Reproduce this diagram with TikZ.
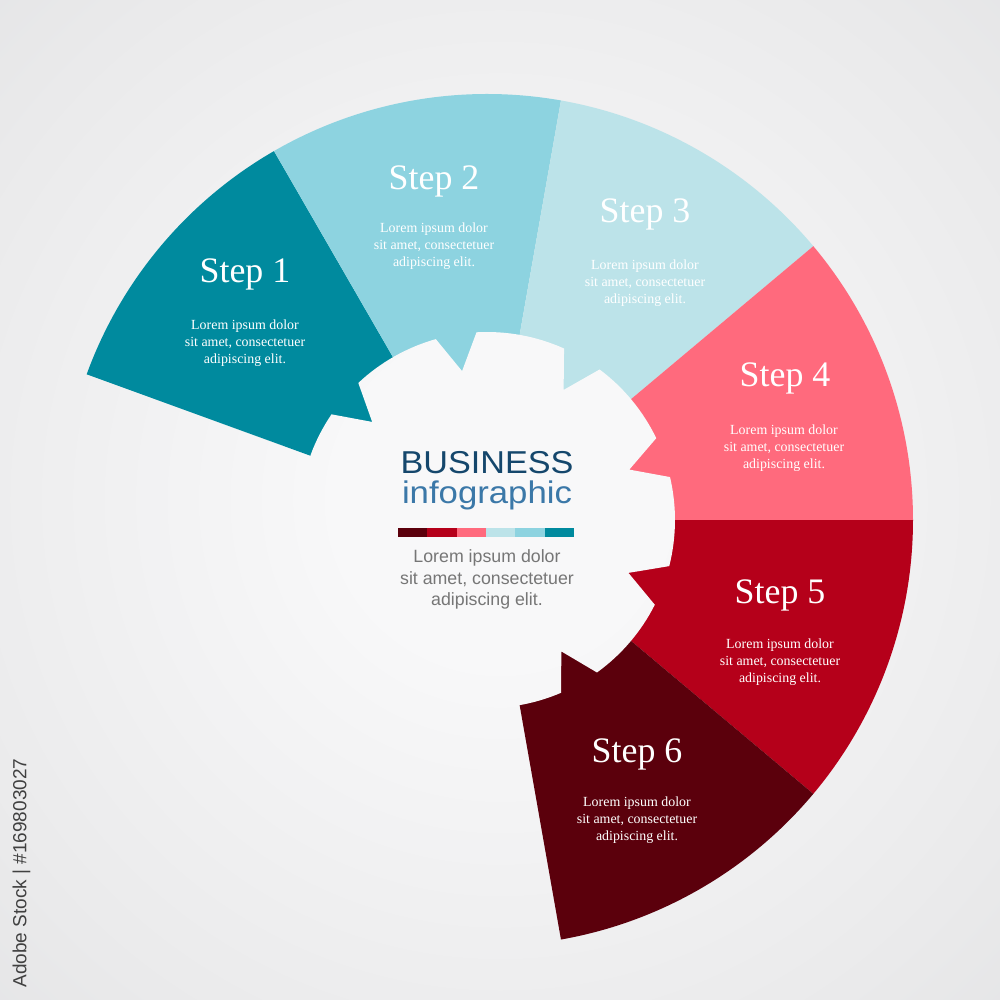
\documentclass[tikz,border=0pt]{standalone}
\usepackage{fontspec}
\setmainfont{Liberation Serif}
\newfontfamily\bizsans{Liberation Sans}
\usepackage{graphicx}
\usepackage{tikz}

\definecolor{stepone}{HTML}{008A9E}
\definecolor{steptwo}{HTML}{8DD3E0}
\definecolor{stepthree}{HTML}{BCE3E9}
\definecolor{stepfour}{HTML}{FF6A7D}
\definecolor{stepfive}{HTML}{B5001A}
\definecolor{stepsix}{HTML}{5B000C}
\definecolor{bizdark}{HTML}{15476C}
\definecolor{bizlight}{HTML}{3B78A8}
\definecolor{loremgray}{HTML}{767676}
\definecolor{bgin}{HTML}{F8F8F9}
\definecolor{bgmid}{HTML}{EAEAEB}
\definecolor{bgout}{HTML}{DBDCDE}

\pgfdeclareradialshading{backglow}{\pgfpoint{0bp}{0bp}}{color(0bp)=(bgin); color(8bp)=(bgin); color(30bp)=(bgmid); color(50bp)=(bgout)}

\begin{document}
\begin{tikzpicture}[x=0.01cm,y=0.01cm,
  steplabel/.style={anchor=base,text=white,font=\fontsize{10.2}{12}\selectfont},
  steptext/.style={align=center,text=white,font=\fontsize{3.96}{4.84}\selectfont}]
% Background
\useasboundingbox (-487,-480) rectangle (513,520);
\shade[shading=backglow] (-487,-480) rectangle (513,520);

% Six wedges, 40 degrees each
\foreach \col [count=\i] in {stepone,steptwo,stepthree,stepfour,stepfive,stepsix}
  \fill[\col] (0,0) -- ({200-40*\i}:426) arc[start angle=200-40*\i, end angle=160-40*\i, radius=426] -- cycle;

% Gear in the middle, same glow as the background
\begin{scope}
\clip (25.8:188)
  foreach \a in {59.5,99.5,...,379.5} {
    arc[start angle=\a-33.7, end angle=\a-6.3, radius=188] -- (\a:151) -- ({\a+6.3}:188)
  } -- cycle;
\shade[shading=backglow] (-487,-480) rectangle (513,520);
\end{scope}

% Step labels
\node[steplabel] (step1) at (-242,237) {Step 1};
\node[steplabel] (step2) at (-53,330) {Step 2};
\node[steplabel] (step3) at (158,297) {Step 3};
\node[steplabel] (step4) at (298,133) {Step 4};
\node[steplabel] (step5) at (293,-83) {Step 5};
\node[steplabel] (step6) at (150,-242) {Step 6};

\node[steptext] (step1txt) at (-242,177) {Lorem ipsum dolor\\sit amet, consectetuer\\adipiscing elit.};
\node[steptext] (step2txt) at (-53,274) {Lorem ipsum dolor\\sit amet, consectetuer\\adipiscing elit.};
\node[steptext] (step3txt) at (158,237) {Lorem ipsum dolor\\sit amet, consectetuer\\adipiscing elit.};
\node[steptext] (step4txt) at (297,72) {Lorem ipsum dolor\\sit amet, consectetuer\\adipiscing elit.};
\node[steptext] (step5txt) at (293,-142) {Lorem ipsum dolor\\sit amet, consectetuer\\adipiscing elit.};
\node[steptext] (step6txt) at (150,-300) {Lorem ipsum dolor\\sit amet, consectetuer\\adipiscing elit.};

% Title
\node[text=bizdark,font=\bizsans\fontsize{9}{11}\selectfont] (title) at (0,57) {\scalebox{1.08}[1]{BUSINESS}};
\node[anchor=base,text=bizlight,font=\bizsans\fontsize{8.9}{11}\selectfont] (subtitle) at (0,16) {\scalebox{1.11}[1]{infographic}};

% Colour bar
\foreach \col [count=\i] in {stepsix,stepfive,stepfour,stepthree,steptwo,stepone}
  \fill[\col] ({-89+29.33*(\i-1)},-8) rectangle ({-89+29.33*\i},-17);

\node[align=center,text=loremgray,font=\bizsans\fontsize{5.05}{6.12}\selectfont] (centertxt) at (0,-59.5) {Lorem ipsum dolor\\sit amet, consectetuer\\adipiscing elit.};

% Stock id
\node[rotate=90,text=black!75,font=\bizsans\fontsize{5.4}{6}\selectfont] (stockid) at (-465.5,-353) {Adobe Stock | \#169803027};

\end{tikzpicture}
\end{document}
